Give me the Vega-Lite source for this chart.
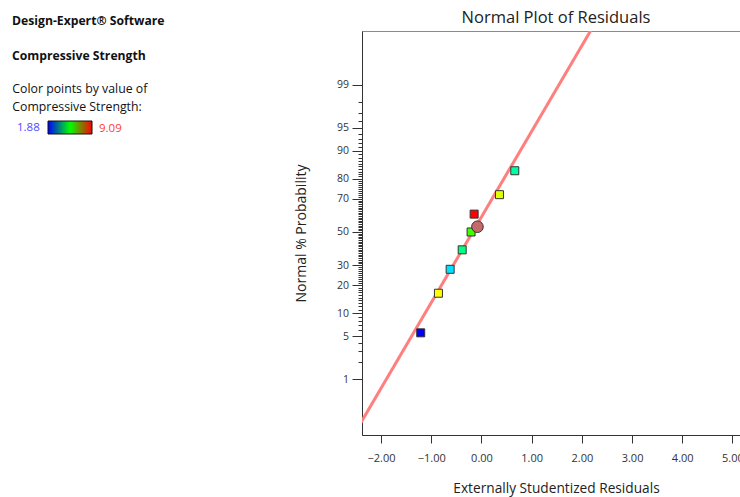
{
  "$schema": "https://vega.github.io/schema/vega-lite/v6.json",
  "autosize": {"type": "none"},
  "width": 388,
  "height": 404,
  "padding": {"left": 362, "top": 31, "right": 0, "bottom": 62},
  "background": "white",
  "config": {"font": "Open Sans", "view": {"stroke": "#8a8a8a", "strokeWidth": 1}},
  "title": {"text": "Normal Plot of Residuals", "fontSize": 16.5, "fontWeight": "normal", "color": "#222", "anchor": "middle", "frame": "group", "offset": 6, "dy": 17},
  "datasets": {
    "runs": [
      {"residual": -1.21, "normalQuantile": -1.5932, "strength": 1.88, "marker": "run"},
      {"residual": -0.857, "normalQuantile": -0.9674, "strength": 7.29, "marker": "run"},
      {"residual": -0.624, "normalQuantile": -0.5895, "strength": 3.47, "marker": "run"},
      {"residual": -0.384, "normalQuantile": -0.2822, "strength": 4.58, "marker": "run"},
      {"residual": -0.207, "normalQuantile": 0.0, "strength": 5.94, "marker": "run"},
      {"residual": -0.146, "normalQuantile": 0.2822, "strength": 9.09, "marker": "run"},
      {"residual": 0.359, "normalQuantile": 0.5895, "strength": 7.07, "marker": "run"},
      {"residual": 0.664, "normalQuantile": 0.9674, "strength": 4.33, "marker": "run"},
      {"residual": -0.08, "normalQuantile": 0.083, "strength": 5.5, "marker": "selected"}
    ],
    "fit": [
      {"residual": -2.5, "normalQuantile": -3.1455},
      {"residual": 2.3, "normalQuantile": 3.349}
    ]
  },
  "resolve": {"axis": {"y": "independent"}},
  "layer": [
    {
      "data": {"name": "fit"},
      "mark": {"type": "line", "color": "#ff7f7f", "strokeWidth": 3, "clip": true},
      "encoding": {
        "x": {
          "field": "residual", "type": "quantitative",
          "scale": {"domain": [-2.38, 5.35], "nice": false, "zero": false},
          "axis": {"title": "Externally Studentized Residuals", "values": [-2, -1, 0, 1, 2, 3, 4, 5], "format": ".2f", "grid": false, "tickSize": 8, "labelFontSize": 11, "labelPadding": 9, "titleFontSize": 13.7, "titleFontWeight": "normal", "titlePadding": 18, "domainColor": "#333", "tickColor": "#333", "labelColor": "#333", "titleColor": "#222", "labelFlush": false}
        },
        "y": {
          "field": "normalQuantile", "type": "quantitative",
          "scale": {"domain": [-3.207, 3.175], "nice": false, "zero": false},
          "axis": {
            "orient": "left",
            "title": "Normal % Probability",
            "grid": false,
            "values": [-2.3263, -1.6449, -1.2816, -0.8416, -0.5244, 0, 0.5244, 0.8416, 1.2816, 1.6449, 2.3263],
            "labelExpr": "datum.value < -2 ? '1' : datum.value < -1.5 ? '5' : datum.value < -1 ? '10' : datum.value < -0.7 ? '20' : datum.value < -0.3 ? '30' : datum.value < 0.3 ? '50' : datum.value < 0.7 ? '70' : datum.value < 1 ? '80' : datum.value < 1.5 ? '90' : datum.value < 2 ? '95' : '99'",
            "tickSize": 10,
            "labelOverlap": false,
            "labelFlush": false,
            "labelFontSize": 10.5,
            "labelPadding": 3.5,
            "labelColor": "#333",
            "titleFontSize": 14,
            "titleFontWeight": "normal",
            "titleColor": "#222",
            "titlePadding": 28,
            "domainColor": "#333",
            "tickColor": "#333"
          }
        }
      }
    },
    {
      "data": {"name": "runs"},
      "mark": {"type": "point", "filled": true, "stroke": "#333", "strokeWidth": 1},
      "encoding": {
        "x": {"field": "residual", "type": "quantitative"},
        "y": {
          "field": "normalQuantile", "type": "quantitative",
          "axis": {
            "orient": "left",
            "title": null,
            "grid": false,
            "labels": false,
            "domain": false,
            "tickSize": 4,
            "tickColor": "#333",
            "values": [-2.3263,-2.0537,-1.8808,-1.7507,-1.6449,-1.5548,-1.4758,-1.4051,-1.3408,-1.2816,-1.2265,-1.175,-1.1264,-1.0803,-1.0364,-0.9945,-0.9542,-0.9154,-0.8779,-0.8416,-0.8064,-0.7722,-0.7388,-0.7063,-0.6745,-0.6433,-0.6128,-0.5828,-0.5534,-0.5244,-0.4959,-0.4677,-0.4399,-0.4125,-0.3853,-0.3585,-0.3319,-0.3055,-0.2793,-0.2533,-0.2275,-0.2019,-0.1764,-0.151,-0.1257,-0.1004,-0.0753,-0.0502,-0.0251,0,0.0251,0.0502,0.0753,0.1004,0.1257,0.151,0.1764,0.2019,0.2275,0.2533,0.2793,0.3055,0.3319,0.3585,0.3853,0.4125,0.4399,0.4677,0.4959,0.5244,0.5534,0.5828,0.6128,0.6433,0.6745,0.7063,0.7388,0.7722,0.8064,0.8416,0.8779,0.9154,0.9542,0.9945,1.0364,1.0803,1.1264,1.175,1.2265,1.2816,1.3408,1.4051,1.4758,1.5548,1.6449,1.7507,1.8808,2.0537,2.3263]
          }
        },
        "shape": {
          "field": "marker", "type": "nominal",
          "scale": {"domain": ["run", "selected"], "range": ["square", "circle"]},
          "legend": {
            "orient": "none", "legendX": -350, "legendY": -16, "direction": "vertical", "columns": 1,
            "title": ["Design-Expert® Software", "Compressive Strength"],
            "titleFontSize": 12.2, "titleFontWeight": "bold", "titleColor": "#111", "titleLineHeight": 35, "titleAnchor": "start", "titlePadding": 21,
            "values": ["run", "selected"],
            "labelExpr": "datum.value === 'run' ? 'Color points by value of' : 'Compressive Strength:'",
            "labelFontSize": 12.3, "labelColor": "#111", "labelOffset": -12, "labelLimit": 250,
            "symbolSize": 0, "symbolOpacity": 0, "symbolStrokeWidth": 0, "rowPadding": 4.7, "padding": 0
          }
        },
        "opacity": {
          "field": "marker", "type": "nominal",
          "scale": {"domain": ["selected", "run"], "range": [1, 1]},
          "legend": {
            "orient": "none", "legendX": -263, "legendY": 91.5,
            "title": "9.09", "titleFontSize": 11.5, "titleFontWeight": "normal", "titleColor": "#ff3b3b", "titleBaseline": "top",
            "labelExpr": "''", "symbolSize": 0, "symbolOpacity": 0, "symbolStrokeWidth": 0, "symbolFillColor": "transparent", "symbolStrokeColor": "transparent", "labelOpacity": 0, "padding": 0
          }
        },
        "size": {"condition": {"test": "datum.marker === 'selected'", "value": 135}, "value": 64},
        "color": {
          "field": "strength", "type": "quantitative",
          "scale": {"domain": [1.88, 3.6825, 5.485, 7.2875, 9.09], "range": ["#0000ff", "#00ffff", "#00ff00", "#ffff00", "#ff0000"], "interpolate": "rgb"},
          "condition": {"test": "datum.marker === 'selected'", "value": "#c46a6a"},
          "legend": null
        }
      }
    },
    {
      "data": {"name": "runs"},
      "mark": {"type": "point", "filled": false, "strokeOpacity": 0, "fillOpacity": 0},
      "encoding": {
        "x": {"field": "residual", "type": "quantitative"},
        "y": {"field": "normalQuantile", "type": "quantitative", "axis": null},
        "stroke": {
          "field": "strength", "type": "quantitative",
          "scale": {"domain": [1.88, 5.485, 9.09], "range": ["#0000ff", "#00ff00", "#ff0000"], "interpolate": "rgb"},
          "legend": {
            "orient": "none", "legendX": -345, "legendY": 90, "direction": "horizontal",
            "title": "1.88", "titleOrient": "left", "titleAnchor": "middle", "titleBaseline": "middle",
            "titleFontSize": 11.5, "titleFontWeight": "normal", "titleColor": "#4b4bff", "titlePadding": 8,
            "gradientLength": 44, "gradientThickness": 13, "gradientStrokeColor": "#111", "gradientStrokeWidth": 1,
            "values": [1.88, 9.09], "labelExpr": "''", "labelOpacity": 0, "padding": 0
          }
        }
      }
    }
  ]
}
